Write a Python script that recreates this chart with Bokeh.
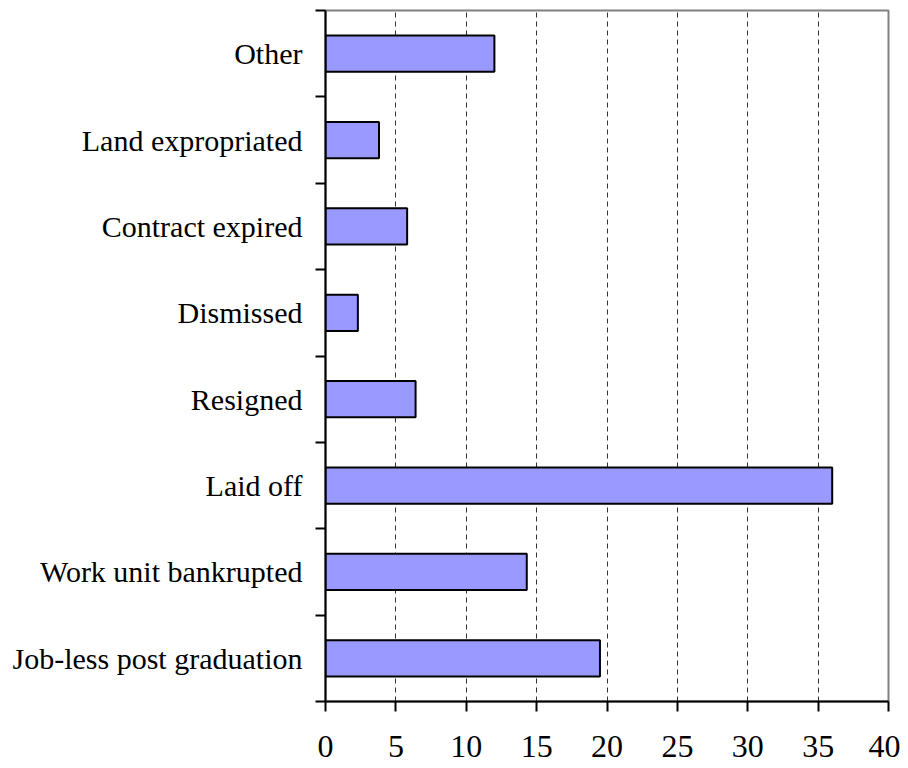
from bokeh.plotting import figure
from bokeh.models import Range1d, FixedTicker, ColumnDataSource
from bokeh.embed import file_html
from bokeh.resources import INLINE

# Categories listed bottom to top
categories = [
    "Job-less post graduation",
    "Work unit bankrupted",
    "Laid off",
    "Resigned",
    "Dismissed",
    "Contract expired",
    "Land expropriated",
    "Other",
]
values = [19.5, 14.3, 36.0, 6.4, 2.3, 5.8, 3.8, 12.0]
x_ticks = [0, 5, 10, 15, 20, 25, 30, 35, 40]

positions = [i + 0.5 for i in range(len(categories))]
boundaries = [float(i) for i in range(len(categories) + 1)]

src = ColumnDataSource(dict(y=positions, right=values, cat=categories))

p = figure(width=900, height=766, output_backend="svg", toolbar_location=None,
           x_range=Range1d(0, 40), y_range=Range1d(0, len(categories)),
           min_border_left=325, min_border_right=12, min_border_top=10,
           min_border_bottom=65)
p.background_fill_color = "white"
p.border_fill_color = "white"
p.outline_line_color = "#808080"
p.outline_line_width = 2

p.hbar(y="y", left=0, right="right", height=0.42, source=src,
       fill_color="#9999FF", line_color="black", line_width=2)

FONT = "Liberation Serif"

# x axis
xa = p.xaxis[0]
xa.ticker = FixedTicker(ticks=x_ticks)
xa.axis_line_color = "black"
xa.axis_line_width = 2
xa.major_tick_line_color = "black"
xa.major_tick_line_width = 2
xa.major_tick_out = 10
xa.major_tick_in = 0
xa.minor_tick_line_color = None
xa.major_label_text_font = FONT
xa.major_label_text_font_size = "32px"
xa.major_label_text_color = "black"
xa.major_label_standoff = 24

# y axis: labels at band centres, ticks at band boundaries
ya = p.yaxis[0]
ya.ticker = FixedTicker(ticks=positions, minor_ticks=boundaries)
ya.major_label_overrides = {pos: c for pos, c in zip(positions, categories)}
ya.axis_line_color = "black"
ya.axis_line_width = 2
ya.major_tick_line_color = None
ya.major_tick_out = 0
ya.major_tick_in = 0
ya.minor_tick_line_color = "black"
ya.minor_tick_line_width = 2
ya.minor_tick_out = 10
ya.minor_tick_in = 0
ya.major_label_text_font = FONT
ya.major_label_text_font_size = "30px"
ya.major_label_text_color = "black"
ya.major_label_standoff = 13

# grids
p.ygrid.grid_line_color = None
p.xgrid.ticker = FixedTicker(ticks=x_ticks)
p.xgrid.grid_line_color = "#333333"
p.xgrid.grid_line_width = 1
p.xgrid.grid_line_dash = "5 4"

open("out.html", "w").write(file_html(p, INLINE))
